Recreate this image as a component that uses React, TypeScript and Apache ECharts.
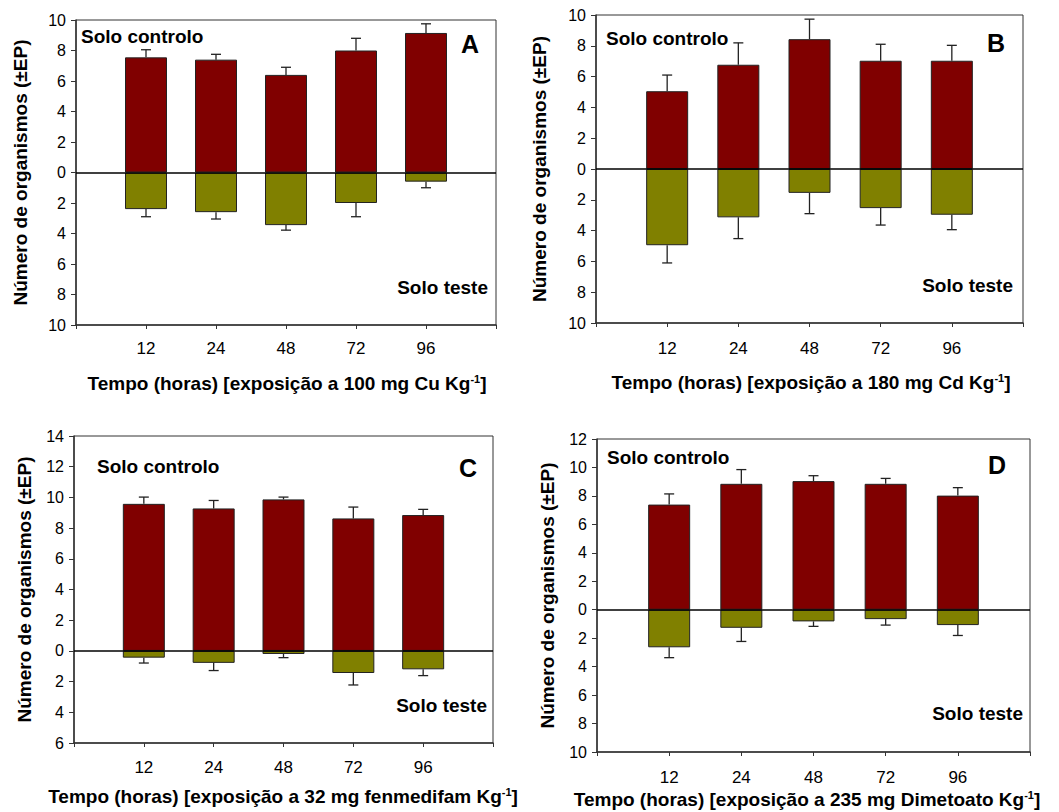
import React, { useEffect, useRef } from "react";
import * as echarts from "echarts";

const hours = ["12", "24", "48", "72", "96"];
const xCats = ["", ...hours, ""];

// Panel A — 100 mg Cu
const ctrlA = [7.55, 7.4, 6.4, 8.0, 9.15];
const ctrlErrA = [0.5, 0.35, 0.5, 0.8, 0.6];
const testA = [2.4, 2.6, 3.45, 2.0, 0.6];
const testErrA = [0.5, 0.45, 0.33, 0.9, 0.4];

// Panel B — 180 mg Cd
const ctrlB = [5.05, 6.77, 8.43, 7.03, 7.03];
const ctrlErrB = [1.05, 1.42, 1.3, 1.07, 1.0];
const testB = [4.95, 3.14, 1.55, 2.54, 2.97];
const testErrB = [1.15, 1.38, 1.35, 1.1, 0.97];

// Panel C — 32 mg fenmedifam
const ctrlC = [9.58, 9.28, 9.87, 8.63, 8.85];
const ctrlErrC = [0.44, 0.52, 0.15, 0.74, 0.37];
const testC = [0.44, 0.78, 0.2, 1.44, 1.2];
const testErrC = [0.35, 0.5, 0.24, 0.78, 0.41];

// Panel D — 235 mg Dimetoato
const ctrlD = [7.39, 8.85, 9.04, 8.85, 8.02];
const ctrlErrD = [0.75, 1.0, 0.38, 0.38, 0.56];
const testD = [2.64, 1.27, 0.82, 0.66, 1.08];
const testErrD = [0.73, 0.96, 0.35, 0.42, 0.73];

const yMax = [10, 10, 14, 12];
const yMin = [-10, -10, -6, -10];
const panelLetters = ["A", "B", "C", "D"];
const xTitles = [
  "Tempo (horas) [exposição a 100 mg Cu Kg",
  "Tempo (horas) [exposição a 180 mg Cd Kg",
  "Tempo (horas) [exposição a 32 mg fenmedifam Kg",
  "Tempo (horas) [exposição a 235 mg Dimetoato Kg",
];
const yTitle = "Número de organismos (±EP)";

const panels = [
  { ctrl: ctrlA, ctrlErr: ctrlErrA, test: testA, testErr: testErrA },
  { ctrl: ctrlB, ctrlErr: ctrlErrB, test: testB, testErr: testErrB },
  { ctrl: ctrlC, ctrlErr: ctrlErrC, test: testC, testErr: testErrC },
  { ctrl: ctrlD, ctrlErr: ctrlErrD, test: testD, testErr: testErrD },
];

// layout (pixels)
const grids = [
  { left: 76, top: 20, width: 420, height: 305 },
  { left: 596, top: 15, width: 427, height: 308 },
  { left: 74, top: 436, width: 419, height: 307 },
  { left: 597, top: 439, width: 433, height: 313 },
];
const layout = [
  { yTitleX: 20, xTitleY: 383, xTitleX: 287, ctrlX: 81, ctrlY: 36, letX: 470, letY: 44, testX: 488, testY: 287, xLabY: 348 },
  { yTitleX: 539, xTitleY: 382, xTitleX: 811, ctrlX: 606, ctrlY: 38, letX: 996, letY: 43, testX: 1013, testY: 285, xLabY: 348 },
  { yTitleX: 24, xTitleY: 796, xTitleX: 283, ctrlX: 97, ctrlY: 466, letX: 468, letY: 468, testX: 487, testY: 705, xLabY: 767 },
  { yTitleX: 547, xTitleY: 799, xTitleX: 807, ctrlX: 607, ctrlY: 457, letX: 997, letY: 465, testX: 1023, testY: 713, xLabY: 777 },
];

const RED = "#800000";
const OLIVE = "#808000";
const FONT = "Liberation Sans, Arial, sans-serif";

export default function App() {
  const ref = useRef<HTMLDivElement>(null);
  useEffect(() => {
    document.body.style.margin = "0";
    if (!ref.current) return;
    const chart = echarts.init(ref.current, undefined, { renderer: "svg" });

    const series: any[] = [];
    const graphic: any[] = [];

    panels.forEach((p, i) => {
      const g = grids[i];
      const L = layout[i];
      series.push({
        type: "bar",
        xAxisIndex: i,
        yAxisIndex: i,
        stack: "s" + i,
        barWidth: 42,
        data: ["-", ...p.ctrl, "-"],
        itemStyle: { color: RED, borderColor: "#222", borderWidth: 1 },
        markLine: {
          silent: true,
          symbol: "none",
          label: { show: false },
          lineStyle: { color: "#000", width: 1.5, type: "solid" },
          data: [{ yAxis: 0 }],
        },
      });
      series.push({
        type: "bar",
        xAxisIndex: i,
        yAxisIndex: i,
        stack: "s" + i,
        barWidth: 42,
        data: ["-", ...p.test.map((v) => -v), "-"],
        itemStyle: { color: OLIVE, borderColor: "#222", borderWidth: 1 },
      });
      const errData: number[][] = [];
      p.ctrl.forEach((v, k) => errData.push([k + 1, v, v + p.ctrlErr[k]]));
      p.test.forEach((v, k) => errData.push([k + 1, -v, -v - p.testErr[k]]));
      series.push({
        type: "custom",
        xAxisIndex: i,
        yAxisIndex: i,
        z: 5,
        data: errData,
        encode: { x: 0, y: [1, 2] },
        renderItem: (params: any, api: any) => {
          const x = api.value(0);
          const a = api.coord([x, api.value(1)]);
          const b = api.coord([x, api.value(2)]);
          const style = { stroke: "#222", lineWidth: 1.3 };
          return {
            type: "group",
            children: [
              { type: "line", shape: { x1: a[0], y1: a[1], x2: b[0], y2: b[1] }, style },
              { type: "line", shape: { x1: b[0] - 5, y1: b[1], x2: b[0] + 5, y2: b[1] }, style },
            ],
          };
        },
      });

      graphic.push({
        type: "text",
        x: L.yTitleX,
        y: g.top + g.height / 2,
        rotation: Math.PI / 2,
        style: {
          text: yTitle,
          font: `bold 19px ${FONT}`,
          fill: "#000",
          textAlign: "center",
          textVerticalAlign: "middle",
        },
      });
      graphic.push({
        type: "text",
        x: L.xTitleX,
        y: L.xTitleY,
        style: {
          text: `{t|${xTitles[i]}}{s|-1}{t|]}`,
          textAlign: "center",
          textVerticalAlign: "middle",
          rich: {
            t: { font: `bold 19px ${FONT}`, fill: "#000", verticalAlign: "bottom", lineHeight: 20 },
            s: { font: `bold 11px ${FONT}`, fill: "#000", verticalAlign: "top", lineHeight: 20 },
          },
        },
      });
      graphic.push({
        type: "text",
        x: L.ctrlX,
        y: L.ctrlY,
        style: {
          text: "Solo controlo",
          font: `bold 19px ${FONT}`,
          fill: "#000",
          textAlign: "left",
          textVerticalAlign: "middle",
        },
      });
      graphic.push({
        type: "text",
        x: L.testX,
        y: L.testY,
        style: {
          text: "Solo teste",
          font: `bold 19px ${FONT}`,
          fill: "#000",
          textAlign: "right",
          textVerticalAlign: "middle",
        },
      });
      graphic.push({
        type: "text",
        x: L.letX,
        y: L.letY,
        style: {
          text: panelLetters[i],
          font: `bold 25px ${FONT}`,
          fill: "#000",
          textAlign: "center",
          textVerticalAlign: "middle",
        },
      });
    });

    chart.setOption({
      animation: false,
      backgroundColor: "#fff",
      grid: grids.map((g) => ({
        ...g,
        show: true,
        borderColor: "#333",
        borderWidth: 1,
        containLabel: false,
      })),
      xAxis: grids.map((g, i) => ({
        type: "category",
        gridIndex: i,
        data: xCats,
        boundaryGap: false,
        axisLine: { lineStyle: { color: "#333", width: 1.5 }, onZero: false },
        axisTick: { show: true, length: 4, lineStyle: { color: "#333" } },
        axisLabel: {
          color: "#000",
          fontSize: 17,
          fontFamily: FONT,
          margin: layout[i].xLabY - (g.top + g.height) - 8,
        },
        splitLine: { show: false },
      })),
      yAxis: grids.map((g, i) => ({
        type: "value",
        gridIndex: i,
        min: yMin[i],
        max: yMax[i],
        interval: 2,
        axisLine: { show: true, lineStyle: { color: "#333", width: 1.5 } },
        axisTick: { show: true, length: 5, lineStyle: { color: "#333" } },
        axisLabel: {
          color: "#000",
          fontSize: 16,
          fontFamily: FONT,
          margin: 10,
          formatter: (v: number) => String(Math.abs(v)),
        },
        splitLine: { show: false },
      })),
      series,
      graphic,
    });

    return () => chart.dispose();
  }, []);
  return <div ref={ref} style={{ width: 1059, height: 812 }} />;
}
